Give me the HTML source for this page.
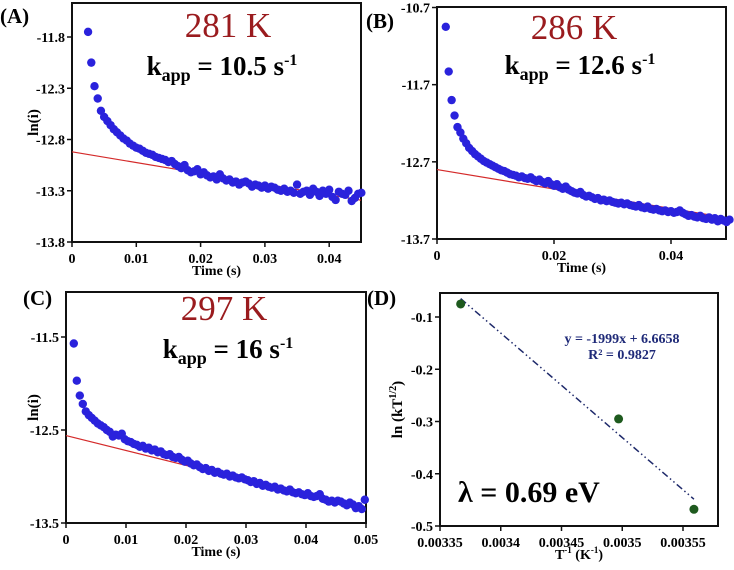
<!DOCTYPE html>
<html><head><meta charset="utf-8"><style>
body{margin:0;background:#fff}
svg{display:block;font-family:"Liberation Serif",serif}
</style></head><body>
<svg id="c" width="734" height="570" viewBox="0 0 734 570"></svg>
<script>
const tA0=0.0025, tB0=0.0015, tC0=0.0013, dt=0.0005;
const valsA=[-11.75,-12.05,-12.28,-12.40,-12.52,-12.58,-12.62,-12.66,-12.70,-12.73,-12.76,-12.79,-12.81,-12.84,-12.86,-12.88,-12.89,-12.91,-12.93,-12.94,-12.95,-12.97,-12.98,-12.99,-13.00,-13.02,-13.01,-13.04,-13.06,-13.08,-13.05,-13.10,-13.12,-13.11,-13.09,-13.14,-13.12,-13.15,-13.17,-13.16,-13.19,-13.14,-13.18,-13.20,-13.19,-13.22,-13.21,-13.24,-13.22,-13.21,-13.23,-13.26,-13.24,-13.25,-13.27,-13.25,-13.28,-13.26,-13.27,-13.29,-13.30,-13.28,-13.31,-13.30,-13.32,-13.24,-13.33,-13.31,-13.30,-13.34,-13.28,-13.31,-13.35,-13.30,-13.33,-13.29,-13.36,-13.39,-13.31,-13.33,-13.34,-13.30,-13.40,-13.37,-13.33,-13.32];
const valsB=[-10.95,-11.53,-11.90,-12.10,-12.25,-12.32,-12.40,-12.46,-12.52,-12.56,-12.60,-12.63,-12.66,-12.69,-12.71,-12.73,-12.75,-12.77,-12.79,-12.81,-12.82,-12.84,-12.86,-12.87,-12.88,-12.90,-12.89,-12.91,-12.92,-12.90,-12.93,-12.95,-12.93,-12.96,-12.98,-12.95,-12.99,-13.01,-12.99,-13.03,-13.05,-13.02,-13.06,-13.08,-13.10,-13.11,-13.09,-13.13,-13.15,-13.14,-13.16,-13.18,-13.17,-13.20,-13.19,-13.21,-13.20,-13.22,-13.23,-13.24,-13.23,-13.25,-13.24,-13.26,-13.27,-13.28,-13.26,-13.29,-13.30,-13.28,-13.31,-13.32,-13.31,-13.33,-13.34,-13.33,-13.35,-13.34,-13.36,-13.35,-13.33,-13.36,-13.38,-13.40,-13.39,-13.41,-13.42,-13.40,-13.43,-13.44,-13.42,-13.45,-13.43,-13.47,-13.44,-13.46,-13.48,-13.45];
const valsC=[-11.57,-11.97,-12.13,-12.22,-12.30,-12.34,-12.37,-12.40,-12.43,-12.45,-12.47,-12.50,-12.52,-12.57,-12.55,-12.56,-12.54,-12.60,-12.62,-12.63,-12.65,-12.66,-12.68,-12.67,-12.70,-12.69,-12.72,-12.71,-12.74,-12.73,-12.76,-12.77,-12.76,-12.79,-12.80,-12.79,-12.82,-12.84,-12.83,-12.86,-12.88,-12.87,-12.90,-12.92,-12.91,-12.94,-12.93,-12.96,-12.95,-12.97,-12.98,-12.97,-13.00,-12.99,-13.01,-13.02,-13.01,-13.03,-13.04,-13.06,-13.05,-13.08,-13.07,-13.10,-13.09,-13.11,-13.12,-13.11,-13.14,-13.13,-13.15,-13.16,-13.14,-13.17,-13.18,-13.17,-13.19,-13.20,-13.18,-13.21,-13.22,-13.21,-13.19,-13.24,-13.25,-13.27,-13.26,-13.28,-13.26,-13.27,-13.29,-13.31,-13.28,-13.30,-13.34,-13.32,-13.35,-13.25];
const fitA=[-12.92,-10.5], fitB=[-12.80,-12.6], fitC=[-12.56,-16];
const xticksA=[0,0.01,0.02,0.03,0.04], yticksA=[-11.8,-12.3,-12.8,-13.3,-13.8];
const xticksB=[0,0.02,0.04], yticksB=[-10.7,-11.7,-12.7,-13.7];
const xticksC=[0,0.01,0.02,0.03,0.04,0.05], yticksC=[-11.5,-12.5,-13.5];
const invT=[0.003367,0.003497,0.003559], lnkT=[-0.075,-0.295,-0.468];
const fitD=[6.6658,-1999];
const xticksD=[0.00335,0.0034,0.00345,0.0035,0.00355], yticksD=[-0.1,-0.2,-0.3,-0.4,-0.5];

const NS="http://www.w3.org/2000/svg", svg=document.getElementById('c');
function mk(tag,attrs,parent,text){const e=document.createElementNS(NS,tag);for(const k in attrs)e.setAttribute(k,attrs[k]);if(text!==undefined)e.textContent=text;(parent||svg).appendChild(e);return e;}
function lin(d0,d1,r0,r1){return v=>r0+(v-d0)*(r1-r0)/(d1-d0);}

function panel(o){
  const g=mk('g',{});
  
  
  const X=lin(o.xd[0],o.xd[1],o.xr[0],o.xr[1]), Y=lin(o.yd[0],o.yd[1],o.yr[0],o.yr[1]);
  const box=mk('rect',{x:o.box[0],y:o.box[1],width:o.box[2]-o.box[0],height:o.box[3]-o.box[1],fill:'none',stroke:'#111','stroke-width':2},g);
  
  
  o.xt.forEach(v=>{
    mk('line',{x1:X(v),x2:X(v),y1:o.box[3],y2:o.box[3]+5,stroke:'#111','stroke-width':1.5},g);
    const t=mk('text',{x:X(v),y:o.box[3]+21,'text-anchor':'middle','font-size':14,'font-weight':'bold'},g,o.xfmt?o.xfmt(v):String(v));
    
    
  });
  o.yt.forEach(v=>{
    mk('line',{x1:o.box[0]-5,x2:o.box[0],y1:Y(v),y2:Y(v),stroke:'#111','stroke-width':1.5},g);
    const t=mk('text',{x:o.box[0]-7,y:Y(v)+5,'text-anchor':'end','font-size':14,'font-weight':'bold'},g,String(v));
    
    
  });
  const xl=mk('text',{x:(o.box[0]+o.box[2])/2,y:o.box[3]+33,'text-anchor':'middle','font-size':14,'font-weight':'bold'},g);
  xl.innerHTML=o.xlabel;
  
  
  const cy=(o.box[1]+o.box[3])/2;
  const yl=mk('text',{x:o.ylx,y:cy,'text-anchor':'middle','font-size':15,'font-weight':'bold',transform:`rotate(-90 ${o.ylx} ${cy})`},g);
  yl.innerHTML=o.ylabel;
  
  
  const pl=mk('text',{x:o.lbl[0],y:o.lbl[1],'font-size':21,'font-weight':'bold'},g,o.letter);
  
  
  return {g,X,Y};
}

function decay(o){
  const p=panel(o);
  const xEnd=o.xd[0]+(o.box[2]-o.xr[0])*(o.xd[1]-o.xd[0])/(o.xr[1]-o.xr[0]);
  const fl=mk('line',{x1:p.X(0),y1:p.Y(o.fit[0]),x2:p.X(xEnd),y2:p.Y(o.fit[0]+o.fit[1]*xEnd),stroke:'#d42a2a','stroke-width':1.2},p.g);
  
  
  o.vals.forEach((v,i)=>{
    const t=o.t0+i*dt;
    const c=mk('circle',{cx:p.X(t),cy:p.Y(v),r:4.2,fill:'#2a22dc'},p.g);
    
    
  });
  const tt=mk('text',{x:o.title[0],y:o.title[1],'text-anchor':'middle','font-size':35,fill:'#9a1b1e'},p.g,o.temp);
  
  
  const k=mk('text',{x:o.kpos[0],y:o.kpos[1],'text-anchor':'middle','font-size':27,'font-weight':'bold'},p.g);
  k.innerHTML=`k<tspan font-size="18" dy="6">app</tspan><tspan dy="-6"> = ${o.k} s</tspan><tspan font-size="16" dy="-10">-1</tspan>`;
  
  
}

decay({name:'panel-a',letter:'(A)',lbl:[0,23],box:[72,3,361,242],xd:[0,0.01],xr:[72,136.3],yd:[-11.8,-13.8],yr:[37,242],
  xt:xticksA,yt:yticksA,xlabel:'Time (s)',ylabel:'ln(i)',ylx:38,vals:valsA,t0:tA0,fit:fitA,temp:'281 K',title:[228,37],k:'10.5',kpos:[222,75]});
decay({name:'panel-b',letter:'(B)',lbl:[366,28],box:[437,7,726,239],xd:[0,0.02],xr:[437,554],yd:[-10.7,-13.7],yr:[7.5,239],
  xt:xticksB,yt:yticksB,xlabel:'Time (s)',ylabel:'',ylx:400,vals:valsB,t0:tB0,fit:fitB,temp:'286 K',title:[574,39],k:'12.6',kpos:[580,74]});
decay({name:'panel-c',letter:'(C)',lbl:[23,305],box:[66,292,366,523],xd:[0,0.01],xr:[66,126],yd:[-11.5,-13.5],yr:[337,523],
  xt:xticksC,yt:yticksC,xlabel:'Time (s)',ylabel:'ln(i)',ylx:38,vals:valsC,t0:tC0,fit:fitC,temp:'297 K',title:[224,320],k:'16',kpos:[228,358]});

(function(){
  const p=panel({name:'panel-d',letter:'(D)',lbl:[367,305],box:[440,293,718,526],xd:[0.00335,0.00355],xr:[440,683],yd:[-0.1,-0.5],yr:[317,526],
    xt:xticksD,yt:yticksD,xfmt:v=>String(v),xlabel:'T<tspan font-size="9" dy="-6">-1</tspan><tspan dy="6"> (K</tspan><tspan font-size="9" dy="-6">-1</tspan><tspan dy="6">)</tspan>',
    ylabel:'ln (kT<tspan font-size="10" dy="-6">1/2</tspan><tspan dy="6">)</tspan>',ylx:402});
  const x0=invT[0], x1=invT[invT.length-1];
  const tl=mk('line',{x1:p.X(x0),y1:p.Y(fitD[0]+fitD[1]*x0),x2:p.X(x1),y2:p.Y(fitD[0]+fitD[1]*x1),stroke:'#1f2a6b','stroke-width':1.5,'stroke-dasharray':'7 3 1.5 3 1.5 3'},p.g);
  
  
  invT.forEach((x,i)=>{
    const c=mk('circle',{cx:p.X(x),cy:p.Y(lnkT[i]),r:4.5,fill:'#1e5a1e'},p.g);
    
    
  });
  const e1=mk('text',{x:622,y:343,'text-anchor':'middle','font-size':14,'font-weight':'bold',fill:'#1f2a78'},p.g,'y = -1999x + 6.6658');
  
  
  const e2=mk('text',{x:622,y:359,'text-anchor':'middle','font-size':14,'font-weight':'bold',fill:'#1f2a78'},p.g,'R² = 0.9827');
  
  
  const l=mk('text',{x:458,y:502,'font-size':30,'font-weight':'bold'},p.g,'λ = 0.69 eV');
  
  
})();
</script>
</body></html>
